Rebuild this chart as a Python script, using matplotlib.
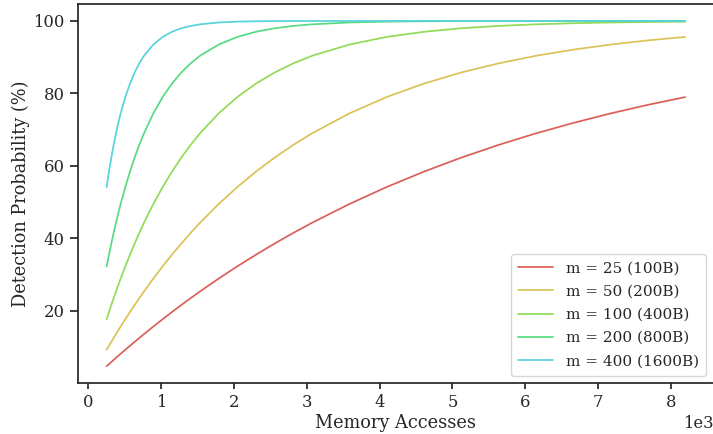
import numpy as np
import matplotlib
matplotlib.use('Agg')
import matplotlib.pyplot as plt
import seaborn as sns

# memory accesses sampled along the x axis
accesses = [256, 288, 320, 352, 384, 416, 448, 512, 576, 640, 704, 768, 896, 1024,
            1152, 1280, 1408, 1536, 1792, 2048, 2304, 2560, 2816, 3072, 3584, 4096,
            4608, 5120, 5632, 6144, 6656, 7168, 7680, 8192]

# detection probability (%), one list per m
prob_m25 = [4.76, 5.34, 5.91, 6.49, 7.05, 7.62, 8.18, 9.29, 10.39, 11.48, 12.55, 13.61,
            15.69, 17.72, 19.71, 21.64, 23.53, 25.37, 28.92, 32.30, 35.52, 38.59, 41.52,
            44.30, 49.48, 54.17, 58.43, 62.29, 65.80, 68.98, 71.86, 74.48, 76.85, 79.00]
prob_m50 = [9.29, 10.39, 11.48, 12.55, 13.61, 14.66, 15.69, 17.72, 19.71, 21.64, 23.53,
            25.37, 28.92, 32.30, 35.52, 38.59, 41.52, 44.30, 49.48, 54.17, 58.43, 62.29,
            65.80, 68.98, 74.48, 79.00, 82.72, 85.78, 88.30, 90.38, 92.08, 93.48, 94.64, 95.59]
prob_m100 = [17.72, 19.71, 21.64, 23.53, 25.37, 27.17, 28.92, 32.30, 35.52, 38.59, 41.52,
             44.30, 49.48, 54.17, 58.43, 62.29, 65.80, 68.98, 74.48, 79.00, 82.72, 85.78,
             88.30, 90.38, 93.48, 95.59, 97.01, 97.98, 98.63, 99.07, 99.37, 99.58, 99.71, 99.81]
prob_m200 = [32.30, 35.52, 38.59, 41.52, 44.30, 46.95, 49.48, 54.17, 58.43, 62.29, 65.80,
             68.98, 74.48, 79.00, 82.72, 85.78, 88.30, 90.38, 93.48, 95.59, 97.01, 97.98,
             98.63, 99.07, 99.58, 99.81, 99.91, 99.96, 99.98, 99.99, 100.0, 100.0, 100.0, 100.0]
prob_m400 = [54.17, 58.43, 62.29, 65.80, 68.98, 71.86, 74.48, 79.00, 82.72, 85.78, 88.30,
             90.38, 93.48, 95.59, 97.01, 97.98, 98.63, 99.07, 99.58, 99.81, 99.91, 99.96,
             99.98, 99.99, 100.0, 100.0, 100.0, 100.0, 100.0, 100.0, 100.0, 100.0, 100.0, 100.0]

labels = ['m = 25 (100B)', 'm = 50 (200B)', 'm = 100 (400B)', 'm = 200 (800B)', 'm = 400 (1600B)']
series = [prob_m25, prob_m50, prob_m100, prob_m200, prob_m400]

sns.set_theme(style='ticks', context='notebook')
plt.rcParams['font.family'] = ['DejaVu Serif']

colors = sns.color_palette('hls', 8)

fig = plt.figure(figsize=(7.13, 4.34), dpi=100)
ax = fig.add_axes([0.109, 0.1164, 0.8924, 0.8751])

for vals, lab, col in zip(series, labels, colors):
    ax.plot(accesses, vals, color=col, linewidth=1.25, label=lab)

ax.ticklabel_format(axis='x', style='sci', scilimits=(3, 3))
ax.set_xlabel('Memory Accesses', fontsize=12.8, labelpad=2)
ax.set_ylabel('Detection Probability (%)', fontsize=12.8, labelpad=2)
ax.set_yticks([20, 40, 60, 80, 100])
ax.tick_params(labelsize=11.8)
ax.tick_params(axis='x', length=4.3)
ax.xaxis.get_offset_text().set_fontsize(11.8)
ax.legend(loc='lower right', fontsize=11, handlelength=2.25, handletextpad=0.85,
          borderpad=0.5, labelspacing=0.6)

fig.savefig('out.png', dpi=100)
